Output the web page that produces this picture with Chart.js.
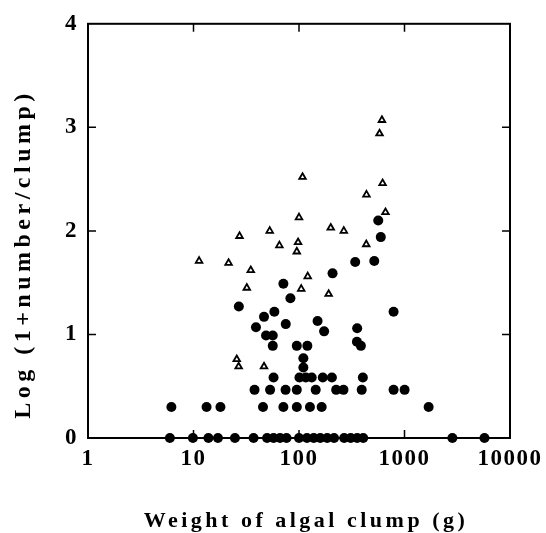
<!DOCTYPE html>
<html>
<head>
<meta charset="utf-8">
<script src="https://cdn.jsdelivr.net/npm/chart.js@4.4.1/dist/chart.umd.min.js"></script>
<style>
  body { margin: 0; background: #fff; }
  #wrap { width: 546px; height: 533px; }
</style>
</head>
<body>
<div id="wrap"><canvas id="algae-chart" width="546" height="533"></canvas></div>
<script>
// tick labels
const xTicks = [1, 10, 100, 1000, 10000];
const yTicks = [0, 1, 2, 3, 4];

// filled circles: weight (g) and log(1+number/clump)
const dotWeight = [
    5.97, 9.87, 13.85, 17.05, 24.7, 37.1, 49.8, 57.4, 66.1, 76.2, 100, 119, 138, 159, 185, 215, 268, 309, 356, 406, 2844, 5728,
    6.17, 13.3, 18.0, 45.6, 71.1, 95.3, 127, 164, 1694,
    37.9, 53.2, 74.6, 95.3, 144, 225, 264, 393, 788, 1002,
    57.4, 101, 116, 132, 168, 205, 403,
    110, 110,
    56.4, 95.3, 120, 386, 354,
    48.7, 56.4,
    173, 39.1, 356, 74.9, 150, 46.6, 58.4, 788, 26.9, 82.9, 71.1, 208, 341, 517, 596, 564
];
const dotLog = [
    0, 0, 0, 0, 0, 0, 0, 0, 0, 0, 0, 0, 0, 0, 0, 0, 0, 0, 0, 0, 0, 0,
    0.30, 0.30, 0.30, 0.30, 0.30, 0.30, 0.30, 0.30, 0.30,
    0.465, 0.465, 0.465, 0.465, 0.465, 0.465, 0.465, 0.465, 0.465, 0.465,
    0.585, 0.585, 0.585, 0.585, 0.585, 0.585, 0.585,
    0.68, 0.77,
    0.89, 0.89, 0.89, 0.89, 0.93,
    0.99, 0.99,
    1.03, 1.07, 1.06, 1.10, 1.13, 1.17, 1.22, 1.22, 1.27, 1.35, 1.49, 1.59, 1.70, 1.71, 1.94, 2.10
];

// open triangles
const triWeight = [11.3, 21.5, 27.3, 34.9, 32.0, 52.8, 65.2, 98.0, 95.3, 100, 108, 121, 105, 200, 266, 434, 191, 436, 611, 580, 620, 660, 25.7, 26.8, 46.6];
const triLog = [1.71, 1.69, 1.95, 1.62, 1.45, 2.00, 1.86, 1.89, 1.80, 2.13, 2.52, 1.56, 1.44, 2.03, 2.00, 1.87, 1.39, 2.35, 3.07, 2.94, 2.46, 2.18, 0.76, 0.69, 0.69];

const serif = "'Liberation Serif', 'DejaVu Serif', serif";

// box round the plot, short inward ticks and the two axis titles
const framePlugin = {
    id: 'frame',
    beforeDraw(chart) {
        chart.ctx.letterSpacing = '1.5px';
    },
    beforeDatasetsDraw(chart) {
        const {ctx, chartArea: a, scales: {x, y}} = chart;
        ctx.save();
        ctx.strokeStyle = '#000';
        ctx.lineWidth = 2;
        ctx.strokeRect(a.left, a.top, a.right - a.left, a.bottom - a.top);
        ctx.lineWidth = 1.5;
        ctx.beginPath();
        [10, 100, 1000].forEach(v => {
            const px = x.getPixelForValue(v);
            ctx.moveTo(px, a.bottom); ctx.lineTo(px, a.bottom - 8);
            ctx.moveTo(px, a.top); ctx.lineTo(px, a.top + 8);
        });
        [1, 2, 3].forEach(v => {
            const py = y.getPixelForValue(v);
            ctx.moveTo(a.left, py); ctx.lineTo(a.left + 8, py);
            ctx.moveTo(a.right, py); ctx.lineTo(a.right - 8, py);
        });
        ctx.stroke();
        ctx.restore();
    },
    afterDraw(chart) {
        const ctx = chart.ctx;
        ctx.save();
        ctx.fillStyle = '#000';
        ctx.textAlign = 'center';
        ctx.textBaseline = 'middle';
        ctx.font = 'bold 22px ' + serif;
        ctx.letterSpacing = '3.5px';
        ctx.fillText('Weight of algal clump (g)', 306, 521);
        ctx.translate(24, 254);
        ctx.rotate(-Math.PI / 2);
        ctx.font = 'bold 24px ' + serif;
        ctx.letterSpacing = '4.5px';
        ctx.fillText('Log (1+number/clump)', 0, 0);
        ctx.restore();
        ctx.letterSpacing = '0px';
    }
};

const ctx = document.getElementById('algae-chart').getContext('2d');
new Chart(ctx, {
    type: 'scatter',
    data: {
        datasets: [{
            label: 'circles',
            data: dotWeight.map((w, i) => ({x: w, y: dotLog[i]})),
            pointStyle: 'circle',
            pointRadius: 5,
            pointBorderWidth: 0,
            backgroundColor: '#000',
            borderColor: '#000',
            clip: false
        }, {
            label: 'triangles',
            data: triWeight.map((w, i) => ({x: w, y: triLog[i]})),
            pointStyle: 'triangle',
            pointRadius: 3.8,
            pointBorderWidth: 1.8,
            backgroundColor: '#fff',
            borderColor: '#000',
            clip: false
        }]
    },
    options: {
        responsive: false,
        animation: false,
        events: [],
        layout: {
            padding: {top: 15, right: 36, left: 0, bottom: 0}
        },
        plugins: {
            legend: {display: false},
            tooltip: {enabled: false}
        },
        scales: {
            x: {
                type: 'logarithmic',
                min: 1,
                max: 10000,
                grid: {display: false, drawTicks: false},
                border: {display: false},
                afterBuildTicks: s => { s.ticks = xTicks.map(v => ({value: v})); },
                afterFit: s => { s.height = 95; },
                ticks: {
                    color: '#000',
                    padding: 7,
                    maxRotation: 0,
                    autoSkip: false,
                    font: {family: serif, size: 23, weight: 'bold'},
                    callback: v => String(v)
                }
            },
            y: {
                min: 0,
                max: 4,
                grid: {display: false, drawTicks: false},
                border: {display: false},
                afterBuildTicks: s => { s.ticks = yTicks.map(v => ({value: v})); },
                afterFit: s => { s.width = 88; },
                ticks: {
                    color: '#000',
                    padding: 10,
                    font: {family: serif, size: 23, weight: 'bold'},
                    callback: v => String(v)
                }
            }
        }
    },
    plugins: [framePlugin]
});
</script>
</body>
</html>
